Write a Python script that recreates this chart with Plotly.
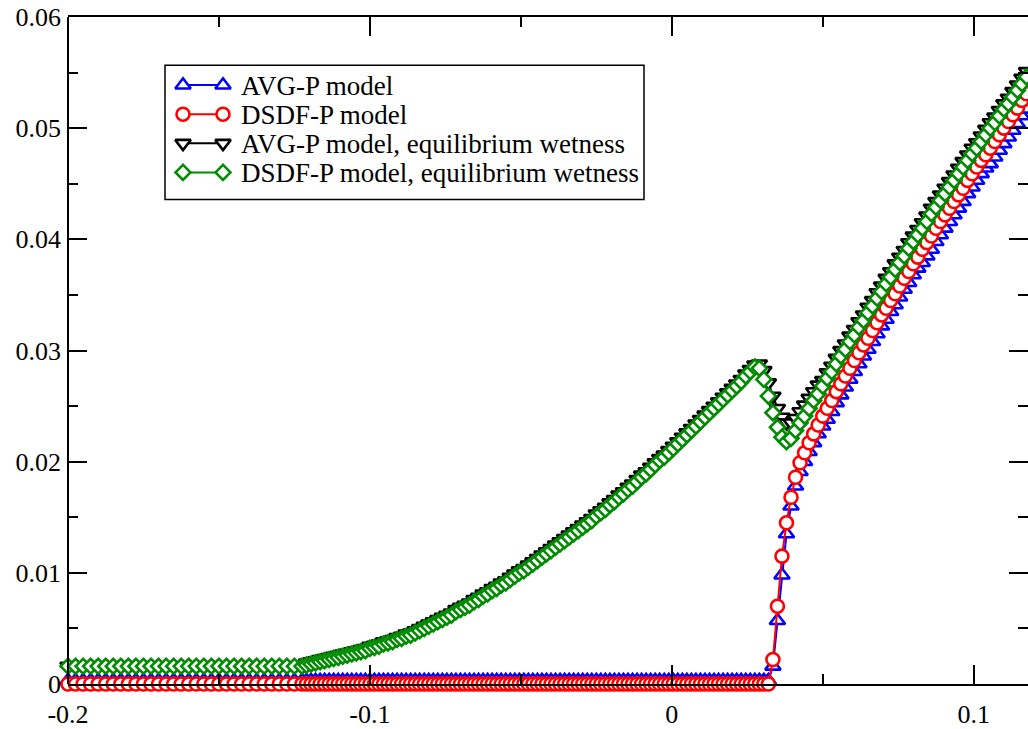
import plotly.graph_objects as go

# ---------------- data ----------------
x_coarse = [-0.2000, -0.1975, -0.1950, -0.1925, -0.1900, -0.1875, -0.1850, -0.1825,
            -0.1800, -0.1775, -0.1750, -0.1725, -0.1700, -0.1675, -0.1650, -0.1625,
            -0.1600, -0.1575, -0.1550, -0.1525, -0.1500, -0.1475, -0.1450, -0.1425,
            -0.1400, -0.1375, -0.1350, -0.1325, -0.1300, -0.1275, -0.1250, -0.1225]

x_fine = [-0.1210, -0.1195, -0.1180, -0.1165, -0.1150, -0.1135, -0.1120, -0.1105, -0.1090, -0.1075,
          -0.1060, -0.1045, -0.1030, -0.1015, -0.1000, -0.0985, -0.0970, -0.0955, -0.0940, -0.0925,
          -0.0910, -0.0895, -0.0880, -0.0865, -0.0850, -0.0835, -0.0820, -0.0805, -0.0790, -0.0775,
          -0.0760, -0.0745, -0.0730, -0.0715, -0.0700, -0.0685, -0.0670, -0.0655, -0.0640, -0.0625,
          -0.0610, -0.0595, -0.0580, -0.0565, -0.0550, -0.0535, -0.0520, -0.0505, -0.0490, -0.0475,
          -0.0460, -0.0445, -0.0430, -0.0415, -0.0400, -0.0385, -0.0370, -0.0355, -0.0340, -0.0325,
          -0.0310, -0.0295, -0.0280, -0.0265, -0.0250, -0.0235, -0.0220, -0.0205, -0.0190, -0.0175,
          -0.0160, -0.0145, -0.0130, -0.0115, -0.0100, -0.0085, -0.0070, -0.0055, -0.0040, -0.0025,
          -0.0010, 0.0005, 0.0020, 0.0035, 0.0050, 0.0065, 0.0080, 0.0095, 0.0110, 0.0125,
          0.0140, 0.0155, 0.0170, 0.0185, 0.0200, 0.0215, 0.0230, 0.0245, 0.0260, 0.0275,
          0.0290, 0.0305, 0.0320, 0.0335, 0.0350, 0.0365, 0.0380, 0.0395, 0.0410, 0.0425,
          0.0440, 0.0455, 0.0470, 0.0485, 0.0500, 0.0515, 0.0530, 0.0545, 0.0560, 0.0575,
          0.0590, 0.0605, 0.0620, 0.0635, 0.0650, 0.0665, 0.0680, 0.0695, 0.0710, 0.0725,
          0.0740, 0.0755, 0.0770, 0.0785, 0.0800, 0.0815, 0.0830, 0.0845, 0.0860, 0.0875,
          0.0890, 0.0905, 0.0920, 0.0935, 0.0950, 0.0965, 0.0980, 0.0995, 0.1010, 0.1025,
          0.1040, 0.1055, 0.1070, 0.1085, 0.1100, 0.1115, 0.1130, 0.1145, 0.1160, 0.1175]

# AVG-P model (blue)
avg_coarse = [0.0003, 0.0003, 0.0003, 0.0003, 0.0003, 0.0003, 0.0003, 0.0003,
              0.0003, 0.0003, 0.0003, 0.0003, 0.0003, 0.0003, 0.0003, 0.0003,
              0.0003, 0.0003, 0.0003, 0.0003, 0.0003, 0.0003, 0.0003, 0.0003,
              0.0003, 0.0003, 0.0003, 0.0003, 0.0003, 0.0003, 0.0003, 0.0003]
avg_fine = [0.0003, 0.0003, 0.0003, 0.0003, 0.0003, 0.0003, 0.0003, 0.0003, 0.0003, 0.0003,
            0.0003, 0.0003, 0.0003, 0.0003, 0.0003, 0.0003, 0.0003, 0.0003, 0.0003, 0.0003,
            0.0003, 0.0003, 0.0003, 0.0003, 0.0003, 0.0003, 0.0003, 0.0003, 0.0003, 0.0003,
            0.0003, 0.0003, 0.0003, 0.0003, 0.0003, 0.0003, 0.0003, 0.0003, 0.0003, 0.0003,
            0.0003, 0.0003, 0.0003, 0.0003, 0.0003, 0.0003, 0.0003, 0.0003, 0.0003, 0.0003,
            0.0003, 0.0003, 0.0003, 0.0003, 0.0003, 0.0003, 0.0003, 0.0003, 0.0003, 0.0003,
            0.0003, 0.0003, 0.0003, 0.0003, 0.0003, 0.0003, 0.0003, 0.0003, 0.0003, 0.0003,
            0.0003, 0.0003, 0.0003, 0.0003, 0.0003, 0.0003, 0.0003, 0.0003, 0.0003, 0.0003,
            0.0003, 0.0003, 0.0003, 0.0003, 0.0003, 0.0003, 0.0003, 0.0003, 0.0003, 0.0003,
            0.0003, 0.0003, 0.0003, 0.0003, 0.0003, 0.0003, 0.0003, 0.0003, 0.0003, 0.0003,
            0.0003, 0.0003, 0.0003, 0.0016, 0.0057, 0.0098, 0.0135, 0.0160, 0.0178, 0.0191,
            0.0200, 0.0209, 0.0217, 0.0225, 0.0232, 0.0238, 0.0245, 0.0253, 0.0260, 0.0267,
            0.0274, 0.0281, 0.0288, 0.0295, 0.0301, 0.0308, 0.0315, 0.0322, 0.0328, 0.0335,
            0.0341, 0.0348, 0.0355, 0.0361, 0.0368, 0.0374, 0.0379, 0.0385, 0.0391, 0.0398,
            0.0404, 0.0410, 0.0416, 0.0422, 0.0428, 0.0434, 0.0441, 0.0447, 0.0453, 0.0459,
            0.0464, 0.0468, 0.0474, 0.0480, 0.0486, 0.0492, 0.0498, 0.0504, 0.0511, 0.0517]

# DSDF-P model (red)
dsdf_coarse = [0, 0, 0, 0, 0, 0, 0, 0, 0, 0, 0, 0, 0, 0, 0, 0,
               0, 0, 0, 0, 0, 0, 0, 0, 0, 0, 0, 0, 0, 0, 0, 0]
dsdf_fine = [0, 0, 0, 0, 0, 0, 0, 0, 0, 0,
             0, 0, 0, 0, 0, 0, 0, 0, 0, 0,
             0, 0, 0, 0, 0, 0, 0, 0, 0, 0,
             0, 0, 0, 0, 0, 0, 0, 0, 0, 0,
             0, 0, 0, 0, 0, 0, 0, 0, 0, 0,
             0, 0, 0, 0, 0, 0, 0, 0, 0, 0,
             0, 0, 0, 0, 0, 0, 0, 0, 0, 0,
             0, 0, 0, 0, 0, 0, 0, 0, 0, 0,
             0, 0, 0, 0, 0, 0, 0, 0, 0, 0,
             0, 0, 0, 0, 0, 0, 0, 0, 0, 0,
             0, 0, 0, 0.0022, 0.0070, 0.0115, 0.0145, 0.0168, 0.0186, 0.0199,
             0.0208, 0.0217, 0.0225, 0.0233, 0.0241, 0.0248, 0.0255, 0.0263, 0.0270, 0.0277,
             0.0284, 0.0291, 0.0298, 0.0305, 0.0311, 0.0318, 0.0325, 0.0332, 0.0338, 0.0345,
             0.0351, 0.0358, 0.0365, 0.0371, 0.0378, 0.0384, 0.0391, 0.0397, 0.0403, 0.0410,
             0.0416, 0.0422, 0.0428, 0.0434, 0.0440, 0.0446, 0.0453, 0.0459, 0.0465, 0.0471,
             0.0476, 0.0482, 0.0488, 0.0494, 0.0500, 0.0506, 0.0512, 0.0518, 0.0525, 0.0531]

# AVG-P model, equilibrium wetness (black)
avg_eq_coarse = [0.0016, 0.0016, 0.0016, 0.0016, 0.0016, 0.0016, 0.0016, 0.0016,
                 0.0016, 0.0016, 0.0016, 0.0016, 0.0016, 0.0016, 0.0016, 0.0016,
                 0.0016, 0.0016, 0.0016, 0.0016, 0.0016, 0.0016, 0.0016, 0.0016,
                 0.0016, 0.0016, 0.0016, 0.0016, 0.0016, 0.0016, 0.0016, 0.0017]
avg_eq_fine = [0.0019, 0.0020, 0.0021, 0.0022, 0.0023, 0.0024, 0.0025, 0.0026, 0.0027, 0.0028,
               0.0029, 0.0030, 0.0031, 0.0032, 0.0034, 0.0035, 0.0036, 0.0038, 0.0039, 0.0040,
               0.0042, 0.0043, 0.0045, 0.0046, 0.0048, 0.0050, 0.0052, 0.0054, 0.0056, 0.0058,
               0.0060, 0.0062, 0.0064, 0.0067, 0.0069, 0.0071, 0.0073, 0.0076, 0.0078, 0.0081,
               0.0083, 0.0086, 0.0088, 0.0091, 0.0093, 0.0096, 0.0099, 0.0102, 0.0104, 0.0107,
               0.0110, 0.0113, 0.0116, 0.0119, 0.0122, 0.0125, 0.0128, 0.0131, 0.0134, 0.0137,
               0.0140, 0.0143, 0.0146, 0.0149, 0.0153, 0.0156, 0.0159, 0.0163, 0.0166, 0.0170,
               0.0173, 0.0177, 0.0180, 0.0184, 0.0188, 0.0191, 0.0195, 0.0199, 0.0203, 0.0206,
               0.0210, 0.0214, 0.0218, 0.0222, 0.0226, 0.0230, 0.0234, 0.0238, 0.0242, 0.0246,
               0.0250, 0.0254, 0.0258, 0.0262, 0.0266, 0.0270, 0.0274, 0.0279, 0.0283, 0.0287,
               0.0288, 0.0282, 0.0271, 0.0259, 0.0248, 0.0240, 0.0235, 0.0235, 0.0239, 0.0245,
               0.0251, 0.0257, 0.0263, 0.0269, 0.0273, 0.0280, 0.0286, 0.0293, 0.0300, 0.0306,
               0.0313, 0.0319, 0.0326, 0.0332, 0.0339, 0.0345, 0.0352, 0.0358, 0.0365, 0.0371,
               0.0378, 0.0384, 0.0390, 0.0397, 0.0403, 0.0409, 0.0415, 0.0421, 0.0428, 0.0434,
               0.0440, 0.0446, 0.0452, 0.0458, 0.0464, 0.0470, 0.0476, 0.0482, 0.0487, 0.0493,
               0.0499, 0.0505, 0.0510, 0.0516, 0.0522, 0.0527, 0.0533, 0.0539, 0.0545, 0.0551]

# DSDF-P model, equilibrium wetness (green)
dsdf_eq_coarse = [0.0016, 0.0016, 0.0016, 0.0016, 0.0016, 0.0016, 0.0016, 0.0016,
                  0.0016, 0.0016, 0.0016, 0.0016, 0.0016, 0.0016, 0.0016, 0.0016,
                  0.0016, 0.0016, 0.0016, 0.0016, 0.0016, 0.0016, 0.0016, 0.0016,
                  0.0016, 0.0016, 0.0016, 0.0016, 0.0016, 0.0016, 0.0016, 0.0016]
dsdf_eq_fine = [0.0017, 0.0018, 0.0019, 0.0020, 0.0021, 0.0022, 0.0023, 0.0024, 0.0025, 0.0026,
                0.0027, 0.0028, 0.0029, 0.0030, 0.0032, 0.0033, 0.0034, 0.0036, 0.0037, 0.0038,
                0.0040, 0.0041, 0.0043, 0.0044, 0.0046, 0.0048, 0.0050, 0.0052, 0.0054, 0.0056,
                0.0058, 0.0060, 0.0062, 0.0065, 0.0067, 0.0069, 0.0071, 0.0074, 0.0076, 0.0079,
                0.0081, 0.0084, 0.0086, 0.0089, 0.0091, 0.0094, 0.0097, 0.0100, 0.0102, 0.0105,
                0.0108, 0.0111, 0.0114, 0.0117, 0.0120, 0.0123, 0.0126, 0.0129, 0.0132, 0.0135,
                0.0138, 0.0141, 0.0144, 0.0147, 0.0151, 0.0154, 0.0157, 0.0161, 0.0164, 0.0168,
                0.0171, 0.0175, 0.0178, 0.0182, 0.0186, 0.0189, 0.0193, 0.0197, 0.0201, 0.0204,
                0.0208, 0.0212, 0.0216, 0.0220, 0.0224, 0.0228, 0.0232, 0.0236, 0.0240, 0.0244,
                0.0248, 0.0252, 0.0256, 0.0260, 0.0264, 0.0268, 0.0272, 0.0277, 0.0281, 0.0285,
                0.0284, 0.0274, 0.0259, 0.0244, 0.0231, 0.0222, 0.0218, 0.0221, 0.0228, 0.0235,
                0.0241, 0.0248, 0.0255, 0.0261, 0.0268, 0.0275, 0.0281, 0.0288, 0.0295, 0.0301,
                0.0308, 0.0314, 0.0321, 0.0327, 0.0334, 0.0340, 0.0347, 0.0353, 0.0360, 0.0366,
                0.0373, 0.0379, 0.0385, 0.0392, 0.0398, 0.0404, 0.0410, 0.0416, 0.0423, 0.0429,
                0.0435, 0.0441, 0.0447, 0.0453, 0.0459, 0.0465, 0.0471, 0.0477, 0.0482, 0.0488,
                0.0494, 0.0500, 0.0505, 0.0511, 0.0517, 0.0522, 0.0528, 0.0534, 0.0540, 0.0546]

series_names = ["AVG-P model", "DSDF-P model",
                "AVG-P model, equilibrium wetness", "DSDF-P model, equilibrium wetness"]

x_tick_vals = [-0.2, -0.1, 0.0, 0.1]
x_tick_text = ["-0.2", "-0.1", "0", "0.1"]
y_tick_vals = [0, 0.01, 0.02, 0.03, 0.04, 0.05, 0.06]
y_tick_text = ["0", "0.01", "0.02", "0.03", "0.04", "0.05", "0.06"]

# ---------------- styling / layout constants ----------------
W, H = 1028, 729
M_L, M_R, M_T, M_B = 68, 0, 17, 36
PW, PH = W - M_L - M_R, H - M_T - M_B          # plot area size in px

styles = [  # colour, symbol, marker size
    ("#0000FF", "triangle-up", 13.5),
    ("#FF0000", "circle", 13),
    ("#000000", "triangle-down", 13.5),
    ("#008B00", "diamond", 11.5),
]
MK_LW = 2.6
LN_W = 2

# legend box geometry (pixels inside plot area)
LEG_X0, LEG_Y0, LEG_X1, LEG_Y1 = 97, 49, 576, 185
LEG_ROW0, LEG_ROW_STEP = 69, 29.5
LEG_KEY_X0, LEG_KEY_X1 = 115, 155
LEG_TEXT_X = 171

font_family = "Liberation Serif"

# ---------------- figure ----------------
x_all = x_coarse + x_fine
y_series = [avg_coarse + avg_fine, dsdf_coarse + dsdf_fine,
            avg_eq_coarse + avg_eq_fine, dsdf_eq_coarse + dsdf_eq_fine]

fig = go.Figure()
for name, ys, (col, sym, size) in zip(series_names, y_series, styles):
    fig.add_trace(go.Scatter(
        x=x_all, y=ys, name=name, mode="lines+markers", showlegend=False,
        line=dict(color=col, width=LN_W),
        marker=dict(symbol=sym, size=size, color="white",
                    line=dict(color=col, width=MK_LW)),
        cliponaxis=False, hoverinfo="x+y+name",
    ))

# legend drawn in a pixel-scaled overlay axis (keys with a marker at each end)
annotations = []
for i, (name, (col, sym, size)) in enumerate(zip(series_names, styles)):
    row = LEG_ROW0 + i * LEG_ROW_STEP
    fig.add_trace(go.Scatter(
        x=[LEG_KEY_X0, LEG_KEY_X1], y=[row, row], xaxis="x2", yaxis="y2",
        mode="lines+markers", showlegend=False, hoverinfo="skip",
        line=dict(color=col, width=LN_W),
        marker=dict(symbol=sym, size=size, color="white",
                    line=dict(color=col, width=MK_LW)),
        cliponaxis=False,
    ))
    annotations.append(dict(
        x=LEG_TEXT_X, y=row + 1, xref="x2", yref="y2", text=name,
        showarrow=False, xanchor="left", yanchor="middle",
        font=dict(family=font_family, size=27, color="black"),
    ))

fig.update_layout(
    width=W, height=H,
    margin=dict(l=M_L, r=M_R, t=M_T, b=M_B),
    paper_bgcolor="white", plot_bgcolor="white",
    font=dict(family=font_family, size=26, color="black"),
    showlegend=False,
    annotations=annotations,
    shapes=[
        # legend frame
        dict(type="rect", xref="x2", yref="y2", x0=LEG_X0, x1=LEG_X1, y0=LEG_Y0, y1=LEG_Y1,
             line=dict(color="black", width=1.5), fillcolor="white", layer="below"),
        # left frame line (right side lies outside the picture)
        dict(type="line", xref="paper", yref="paper", x0=0, x1=0, y0=0, y1=1,
             line=dict(color="black", width=2), layer="above"),
    ],
    xaxis2=dict(overlaying="x", range=[0, PW], visible=False, fixedrange=True),
    yaxis2=dict(overlaying="y", range=[PH, 0], visible=False, fixedrange=True),
)

fig.layout.xaxis.update(
    range=[-0.2, 0.118], showgrid=False, zeroline=False,
    showline=True, linecolor="black", linewidth=2, mirror="ticks",
    ticks="inside", ticklen=19, tickwidth=2, tickcolor="black",
    tickvals=x_tick_vals, ticktext=x_tick_text,
    tickfont=dict(family=font_family, size=26, color="black"),
    ticklabelstandoff=6,
    minor=dict(ticks="inside", ticklen=10, tickwidth=2, tickcolor="black",
               dtick=0.05, showgrid=False),
)
fig.layout.yaxis.update(
    range=[0, 0.06], showgrid=False, zeroline=False,
    showline=False, mirror="ticks",
    ticks="inside", ticklen=19, tickwidth=2, tickcolor="black",
    tickvals=y_tick_vals, ticktext=y_tick_text,
    tickfont=dict(family=font_family, size=26, color="black"),
    ticklabelstandoff=6,
    minor=dict(ticks="inside", ticklen=10, tickwidth=2, tickcolor="black",
               dtick=0.005, showgrid=False),
)

fig.write_html("out.html")
